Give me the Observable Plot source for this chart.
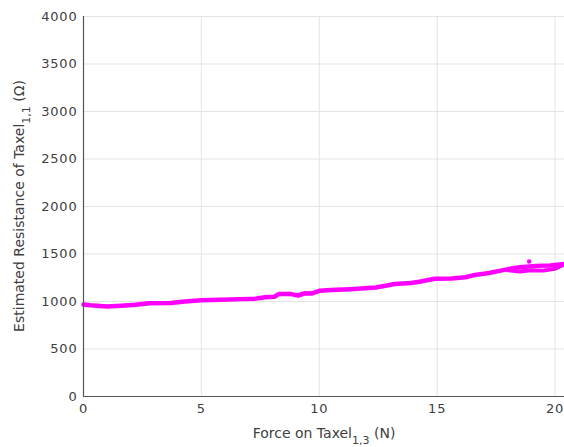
<!DOCTYPE html>
<html>
<head>
<meta charset="utf-8">
<script src="https://cdn.jsdelivr.net/npm/d3@7"></script>
<script src="https://cdn.jsdelivr.net/npm/@observablehq/plot@0.6"></script>
<style>
  html, body { margin: 0; padding: 0; background: #fff; }
  svg { display: block; }
</style>
</head>
<body>
<div id="chart"></div>
<script>
// Force on Taxel 1,3 (N) and estimated resistance of Taxel 1,1 (Ω), loading branch
const loadForce = [0, 0.3, 1.0, 1.6, 2.2, 2.8, 3.7, 4.3, 5.0, 5.8, 6.7, 7.3, 7.7, 8.1, 8.3, 8.8, 9.1, 9.4, 9.7, 10.0, 10.5, 11.3, 12.4, 12.8, 13.2, 13.9, 14.3, 14.9, 15.6, 16.2, 16.6, 17.2, 17.7, 18.1, 18.5, 19.2, 19.8, 20.4];
const loadRes   = [968, 960, 947, 955, 965, 982, 985, 1000, 1012, 1018, 1025, 1030, 1045, 1050, 1080, 1078, 1063, 1087, 1085, 1112, 1120, 1130, 1147, 1165, 1185, 1195, 1210, 1240, 1242, 1255, 1280, 1300, 1325, 1345, 1360, 1375, 1380, 1395];
// unloading branch near the top of the force range
const unloadForce = [20.4, 20.0, 19.5, 19.0, 18.5, 18.0];
const unloadRes   = [1390, 1345, 1325, 1328, 1315, 1330];
// isolated sample
const outlierForce = [18.9];
const outlierRes   = [1421];

const xTicks = [0, 5, 10, 15, 20];
const yTicks = [0, 500, 1000, 1500, 2000, 2500, 3000, 3500, 4000];

const load = loadForce.map((f, i) => ({f, r: loadRes[i]}));
const unload = unloadForce.map((f, i) => ({f, r: unloadRes[i]}));
const outlier = outlierForce.map((f, i) => ({f, r: outlierRes[i]}));

const magenta = "#f0f";
const svg = Plot.plot({
  width: 564,
  height: 447,
  marginLeft: 83,
  marginRight: 0,
  marginTop: 16,
  marginBottom: 51,
  style: {fontFamily: "DejaVu Sans", fontSize: "13px", color: "#404040", background: "#fff"},
  x: {domain: [0, 20.4], ticks: xTicks, tickFormat: "d", tickSize: 0, tickPadding: 7, label: null},
  y: {domain: [0, 4000], ticks: yTicks, tickFormat: "d", tickSize: 0, tickPadding: 6, label: null},
  marks: [
    Plot.gridX(xTicks, {stroke: "#e3e3e3", strokeOpacity: 1}),
    Plot.gridY(yTicks, {stroke: "#e3e3e3", strokeOpacity: 1}),
    Plot.line(load, {x: "f", y: "r", stroke: magenta, strokeWidth: 4.5, curve: "linear"}),
    Plot.line(unload, {x: "f", y: "r", stroke: magenta, strokeWidth: 4}),
    Plot.dot(outlier, {x: "f", y: "r", fill: magenta, r: 2.2}),
    Plot.ruleX([0], {stroke: "#555", strokeWidth: 1.2}),
    Plot.ruleY([0], {stroke: "#555", strokeWidth: 1.2})
  ]
});
d3.select(svg).selectAll("g[aria-label$='tick label'] text").style("letter-spacing", "0.8px");
document.getElementById("chart").appendChild(svg);

const s = d3.select(svg);
// x axis label
const xl = s.append("text")
  .attr("x", 324).attr("y", 438)
  .attr("text-anchor", "middle")
  .attr("fill", "#404040")
  .style("font-size", "14px");
xl.append("tspan").text("Force on Taxel");
xl.append("tspan").attr("dy", 6).style("font-size", "11px").text("1,3");
xl.append("tspan").attr("dy", -6).text(" (N)");

// y axis label
const yl = s.append("text")
  .attr("transform", "translate(24,206) rotate(-90)")
  .attr("text-anchor", "middle")
  .attr("fill", "#404040")
  .style("font-size", "14px");
yl.append("tspan").text("Estimated Resistance of Taxel");
yl.append("tspan").attr("dy", 6).style("font-size", "11px").text("1,1");
yl.append("tspan").attr("dy", -6).text(" (Ω)");
</script>
</body>
</html>
